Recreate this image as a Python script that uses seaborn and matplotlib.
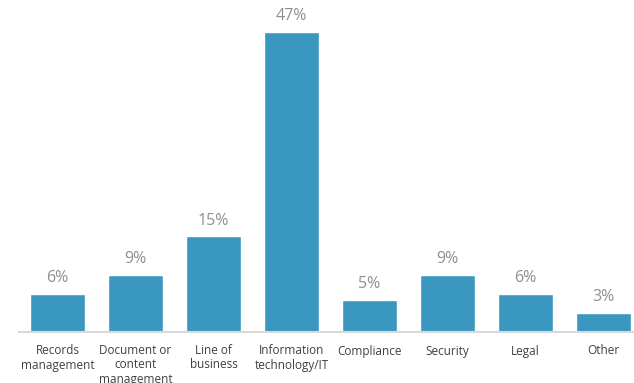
import matplotlib
matplotlib.use("Agg")
import matplotlib.pyplot as plt
import seaborn as sns
import pandas as pd

categories = ["Records\nmanagement", "Document or\ncontent\nmanagement", "Line of\nbusiness",
              "Information\ntechnology/IT", "Compliance", "Security", "Legal", "Other"]
values = [6, 9, 15, 47, 5, 9, 6, 3]
value_labels = ["6%", "9%", "15%", "47%", "5%", "9%", "6%", "3%"]

sns.set_theme(style="white")
plt.rcParams['font.family'] = ['Open Sans', 'DejaVu Sans']

df = pd.DataFrame({"dept": categories, "share": values})

W, H = 634, 383
fig = plt.figure(figsize=(W / 100, H / 100), dpi=100)
left, right, bottom, top = 18.5, 642.5, 332, 13
ax = fig.add_axes([left / W, (H - bottom) / H, (right - left) / W, (bottom - top) / H])

sns.barplot(data=df, x="dept", y="share", color="#3a98c0", saturation=1,
            width=0.705, ax=ax)
ax.set_ylim(0, 50)
ax.set_xlim(-0.5, len(categories) - 0.5)

for i, (v, lab) in enumerate(zip(values, value_labels)):
    ax.text(i, v + 1.2, lab, ha="center", va="bottom", fontsize=11.5, color="#8f8f8f")

ax.set_xlabel("")
ax.set_ylabel("")
ax.set_yticks([])
ax.tick_params(axis="x", length=0, pad=9, labelsize=8.5, labelcolor="#404040")
for lbl in ax.get_xticklabels():
    lbl.set_linespacing(1.1)
for s in ["top", "right", "left"]:
    ax.spines[s].set_visible(False)
ax.spines["bottom"].set_color("#d9d9d9")
ax.spines["bottom"].set_linewidth(1.5)

fig.savefig("out.png", dpi=100)
